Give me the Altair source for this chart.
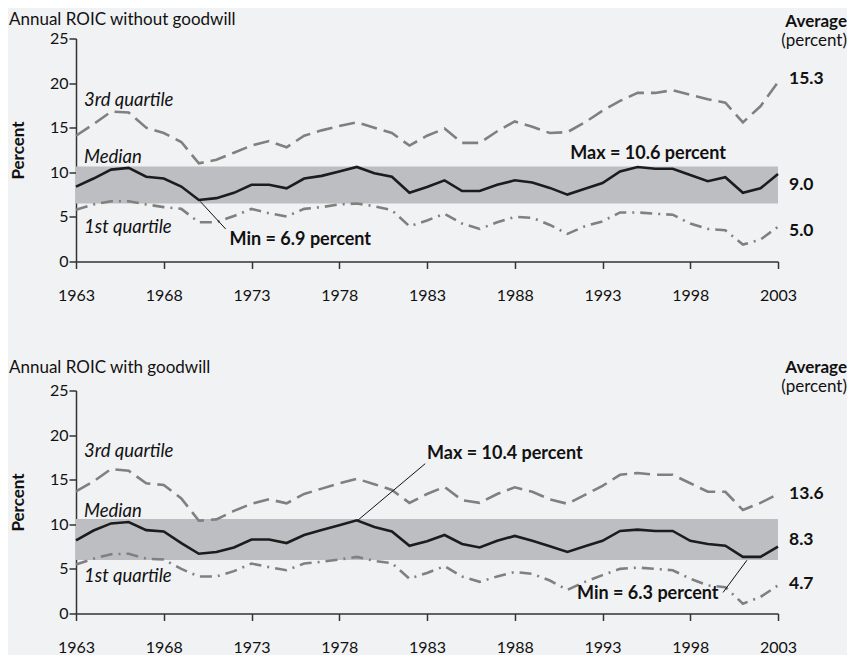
import altair as alt
import pandas as pd

years = list(range(1963, 2004))
tick_years = [1963, 1968, 1973, 1978, 1983, 1988, 1993, 1998, 2003]
tick_pct = [0, 5, 10, 15, 20, 25]

# Panel 1: without goodwill
q3_wo = [14.1, 15.4, 16.8, 16.7, 15.0, 14.4, 13.4, 11.0, 11.4, 12.2, 13.0, 13.5, 12.8, 14.1, 14.7, 15.2, 15.6, 15.0, 14.4, 13.0, 14.1,
         14.9, 13.3, 13.3, 14.6, 15.7, 15.1, 14.4, 14.5, 15.6, 16.9, 18.0, 18.9, 18.9, 19.2, 18.7, 18.2, 17.8, 15.6, 17.4, 20.1]
med_wo = [8.4, 9.3, 10.3, 10.5, 9.5, 9.3, 8.4, 6.9, 7.1, 7.7, 8.6, 8.6, 8.2, 9.3, 9.6, 10.1, 10.6, 9.9, 9.5, 7.7, 8.35,
          9.1, 7.9, 7.9, 8.6, 9.1, 8.85, 8.25, 7.5, 8.15, 8.8, 10.1, 10.6, 10.4, 10.4, 9.7, 9.0, 9.45, 7.7, 8.2, 9.8]
q1_wo = [5.8, 6.4, 6.75, 6.75, 6.4, 6.1, 5.9, 4.4, 4.4, 5.1, 5.9, 5.4, 5.05, 5.9, 6.1, 6.4, 6.5, 6.2, 5.75, 3.95, 4.6,
         5.35, 4.25, 3.65, 4.4, 5.0, 4.9, 4.1, 3.1, 3.95, 4.5, 5.5, 5.5, 5.35, 5.25, 4.25, 3.65, 3.5, 1.9, 2.45, 3.9]
band_wo = [6.5, 10.65]
avg_wo = ["15.3", "9.0", "5.0"]

# Panel 2: with goodwill
q3_w = [13.7, 14.8, 16.2, 16.0, 14.6, 14.4, 12.9, 10.4, 10.55, 11.5, 12.3, 12.8, 12.35, 13.4, 14.0, 14.6, 15.1, 14.5, 13.85, 12.4, 13.4,
        14.2, 12.7, 12.4, 13.4, 14.15, 13.65, 12.8, 12.3, 13.3, 14.3, 15.55, 15.75, 15.55, 15.55, 14.6, 13.65, 13.65, 11.6, 12.4, 13.4]
med_w = [8.2, 9.3, 10.1, 10.25, 9.35, 9.2, 7.9, 6.7, 6.9, 7.4, 8.3, 8.3, 7.9, 8.8, 9.35, 9.9, 10.45, 9.7, 9.2, 7.6, 8.1,
         8.8, 7.8, 7.4, 8.15, 8.7, 8.15, 7.55, 6.9, 7.55, 8.15, 9.25, 9.4, 9.25, 9.25, 8.15, 7.8, 7.6, 6.35, 6.35, 7.5]
q1_w = [5.5, 6.15, 6.65, 6.7, 6.15, 6.05, 5.0, 4.15, 4.15, 4.75, 5.6, 5.2, 4.85, 5.6, 5.8, 6.05, 6.35, 5.9, 5.65, 3.9, 4.55,
        5.3, 4.15, 3.55, 4.15, 4.65, 4.45, 3.7, 2.65, 3.55, 4.3, 5.0, 5.15, 5.0, 4.85, 3.9, 3.15, 2.95, 1.1, 1.85, 3.15]
band_w = [6.0, 10.6]
avg_w = ["13.6", "8.3", "4.7"]

titles = ["Annual ROIC without goodwill", "Annual ROIC with goodwill"]
series_labels = ["3rd quartile", "Median", "1st quartile"]
head_labels = ["Average", "(percent)"]

FONT = "Lato"
BG = "#f1f2f4"
W, H = 702, 223


def xs():
    return alt.Scale(domain=[1963, 2003], nice=False, zero=False)


def ys():
    return alt.Scale(domain=[0, 25], nice=False)


def xaxis():
    return alt.Axis(values=tick_years, format="d", title=None, labelPadding=19, tickSize=7,
                    labelFlush=False, grid=False)


def yaxis():
    return alt.Axis(values=tick_pct, title="Percent", tickSize=7, labelPadding=1, grid=False,
                    titlePadding=22, titleFontWeight="bold", titleFontSize=17, titleFont=FONT,
                    titleColor="#111")


def X(f):
    return alt.X(f"{f}:Q", scale=xs(), axis=xaxis())


def Y(f):
    return alt.Y(f"{f}:Q", scale=ys(), axis=yaxis())


def ptext(txt, px, py, bold=False, italic=False, align="left", size=17.0):
    return alt.Chart(pd.DataFrame({"t": [txt]})).mark_text(
        align=align, baseline="middle", font=FONT, fontSize=size,
        fontWeight="bold" if bold else "normal",
        fontStyle="italic" if italic else "normal", color="#111"
    ).encode(x=alt.value(px), y=alt.value(py), text="t:N")


def panel(title, q3, med, q1, band, avgs, title_y, head_y, avg_y, lab_y, rules, notes):
    df = pd.DataFrame({"year": years, "q3": q3, "med": med, "q1": q1})
    bdf = pd.DataFrame({"x0": [years[0]], "x1": [years[-1]], "lo": [band[0]], "hi": [band[1]]})
    band_l = alt.Chart(bdf).mark_rect(color="#bdbec2").encode(
        x=X("x0"), x2=alt.X2("x1:Q"), y=Y("lo"), y2=alt.Y2("hi:Q"))
    base = alt.Chart(df)
    l3 = base.mark_line(color="#808080", strokeWidth=2.6, strokeDash=[16, 7]).encode(x=X("year"), y=Y("q3"))
    lm = base.mark_line(color="#1c1c1c", strokeWidth=2.6).encode(x=X("year"), y=Y("med"))
    l1 = base.mark_line(color="#808080", strokeWidth=2.6, strokeDash=[12, 6, 2, 6]).encode(x=X("year"), y=Y("q1"))
    rdf = pd.DataFrame(rules, columns=["xa", "ya", "xb", "yb"])
    rl = alt.Chart(rdf).mark_rule(color="#111", strokeWidth=1).encode(
        x=X("xa"), y=Y("ya"), x2=alt.X2("xb:Q"), y2=alt.Y2("yb:Q"))
    ndf = pd.DataFrame(notes, columns=["nx", "ny", "label", "al"])
    layers = [band_l, l3, lm, l1, rl]
    for al in ["left", "center"]:
        sub = ndf[ndf["al"] == al]
        if len(sub):
            layers.append(alt.Chart(sub).mark_text(
                align=al, baseline="middle", font=FONT, fontSize=18, fontWeight="bold", color="#111"
            ).encode(x=X("nx"), y=Y("ny"), text="label:N"))
    layers += [
        ptext(title, -67, title_y, size=17),
        ptext(head_labels[0], 771, head_y[0], bold=True, align="right"),
        ptext(head_labels[1], 771, head_y[1], align="right"),
        ptext(avgs[0], 713, avg_y[0], bold=True, size=17.5),
        ptext(avgs[1], 713, avg_y[1], bold=True, size=17.5),
        ptext(avgs[2], 713, avg_y[2], bold=True, size=17.5),
        ptext(series_labels[0], 8, lab_y[0], italic=True, size=18.5),
        ptext(series_labels[1], 8, lab_y[1], italic=True, size=18.5),
        ptext(series_labels[2], 8, lab_y[2], italic=True, size=18.5),
    ]
    return alt.layer(*layers).properties(width=W, height=H)


p1 = panel(titles[0], q3_wo, med_wo, q1_wo, band_wo, avg_wo,
           title_y=-19, head_y=[-17, 2], avg_y=[40, 146, 192], lab_y=[61, 118, 188],
           rules=[[1970.07, 6.75, 1971.53, 3.64]],
           notes=[[1971.75, 2.45, "Min = 6.9 percent", "left"],
                  [1995.6, 12.0, "Max = 10.6 percent", "center"]])

p2 = panel(titles[1], q3_w, med_w, q1_w, band_w, avg_w,
           title_y=-23, head_y=[-23, -4], avg_y=[103, 149, 193], lab_y=[60, 120, 185],
           rules=[[1979.07, 10.47, 1982.9, 16.8], [2001.23, 5.97, 1999.87, 2.36]],
           notes=[[1983.0, 17.9, "Max = 10.4 percent", "left"],
                  [1991.55, 2.14, "Min = 6.3 percent", "left"]])

chart = alt.vconcat(p1, p2, spacing=55).configure(
    background=BG, padding={"left": 1, "top": 2.5, "right": 0, "bottom": 0}
).configure_view(stroke=None).configure_axis(
    labelFont=FONT, labelFontSize=16, labelColor="#111",
    domainColor="#333", tickColor="#333", domainWidth=1.5, tickWidth=1.5
)

chart.save("out.html", embed_options={"renderer": "svg", "actions": False})
